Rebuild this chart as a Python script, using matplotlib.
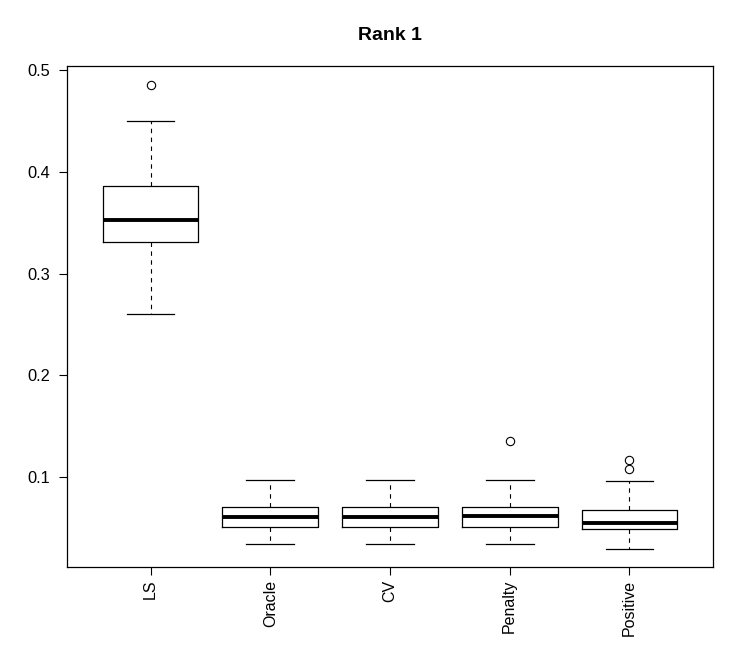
import matplotlib
matplotlib.use('Agg')
import matplotlib.pyplot as plt

plt.rcParams['font.family'] = ['Liberation Sans', 'DejaVu Sans']

methods = ['LS', 'Oracle', 'CV', 'Penalty', 'Positive']
whislo = [0.2604, 0.0339, 0.0339, 0.0339, 0.0296]
q1 = [0.3307, 0.0512, 0.0512, 0.0512, 0.0486]
med = [0.3526, 0.0610, 0.0610, 0.0614, 0.0545]
q3 = [0.3857, 0.0702, 0.0702, 0.0708, 0.0679]
whishi = [0.4496, 0.0974, 0.0974, 0.0974, 0.0961]
fliers = [[0.4853], [], [], [0.1357], [0.1167, 0.1082]]
yticks = [0.1, 0.2, 0.3, 0.4, 0.5]

stats = []
for i, name in enumerate(methods):
    stats.append(dict(label=name, whislo=whislo[i], q1=q1[i], med=med[i],
                      q3=q3[i], whishi=whishi[i], fliers=fliers[i]))

fig = plt.figure(figsize=(7.47, 6.5), dpi=100)
ax = fig.add_axes([66.7 / 747, 1 - 567 / 650, (713.3 - 66.7) / 747, (567 - 66) / 650])

ax.bxp(stats, positions=range(1, 6), widths=0.8, patch_artist=False,
       boxprops=dict(color='black', linewidth=0.9),
       medianprops=dict(color='black', linewidth=2.8, solid_capstyle='butt'),
       whiskerprops=dict(color='black', linewidth=0.8, linestyle=(0, (4, 4))),
       capprops=dict(color='black', linewidth=0.9),
       flierprops=dict(marker='o', markersize=6, markerfacecolor='none',
                       markeredgecolor='black', markeredgewidth=0.8),
       capwidths=0.4)

ax.set_xlim(0.3, 5.7)
ax.set_ylim(0.0116, 0.504)
ax.set_yticks(yticks)
ax.set_yticklabels([str(t) for t in yticks], fontsize=11.8)
ax.set_xticks(range(1, 6))
ax.set_xticklabels(methods, rotation=90, fontsize=11.5)
ax.tick_params(direction='out', length=6, width=0.8, colors='black')
ax.tick_params(axis='x', pad=3)
ax.tick_params(axis='y', pad=6)
for s in ax.spines.values():
    s.set_linewidth(0.9)

fig.text(390 / 747, 1 - 40 / 650, 'Rank 1', ha='center', va='baseline',
         fontsize=14, fontweight='bold')

fig.savefig('out.png', dpi=100)
